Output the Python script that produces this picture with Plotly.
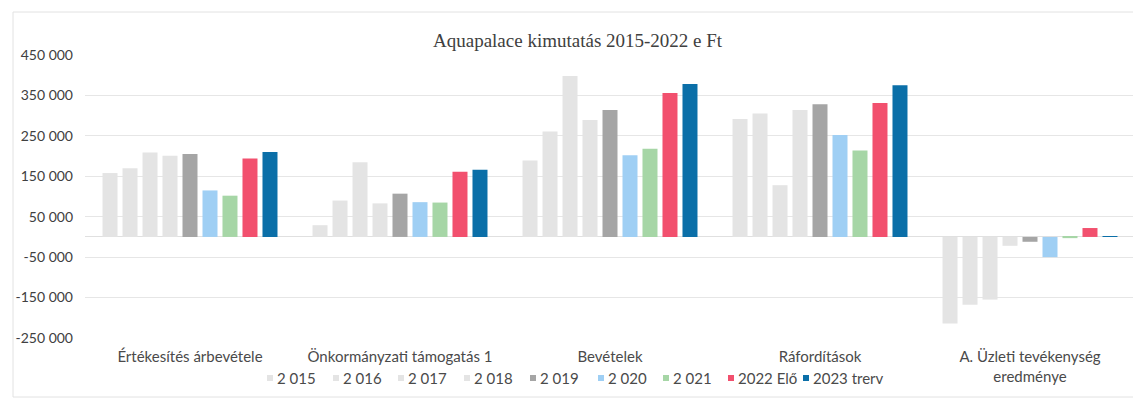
import plotly.graph_objects as go

categories = ["Értékesítés árbevétele", "Önkormányzati támogatás 1", "Bevételek",
              "Ráfordítások", "A. Üzleti tevékenység<br>eredménye"]
series_names = ["2 015", "2 016", "2 017", "2 018", "2 019", "2 020", "2 021", "2022 Elő", "2023 trerv"]

v2015 = [158000, 29000, 189000, 292000, -214000]
v2016 = [170000, 90000, 261000, 305000, -168000]
v2017 = [209000, 185000, 398000, 128000, -155000]
v2018 = [201000, 83000, 289000, 314000, -22000]
v2019 = [205000, 107000, 314000, 328000, -12000]
v2020 = [115000, 86000, 202000, 252000, -50000]
v2021 = [102000, 85000, 218000, 214000, -3000]
v2022 = [194000, 161000, 356000, 331000, 22000]
v2023 = [210000, 166000, 378000, 375000, 500]
values = [v2015, v2016, v2017, v2018, v2019, v2020, v2021, v2022, v2023]

colors = ["#e4e4e4", "#e4e4e4", "#e4e4e4", "#e4e4e4", "#a5a5a5",
          "#9fcff4", "#a6d6a6", "#f2506e", "#0b6fa8"]

tick_vals = [-250000, -150000, -50000, 50000, 150000, 250000, 350000, 450000]
tick_text = ["-250 000", "-150 000", "-50 000", "50 000", "150 000", "250 000", "350 000", "450 000"]

title_text = "Aquapalace kimutatás 2015-2022 e Ft"

# page is offset by the 8px body margin
OFF = 8
W, H = 1141 - OFF, 401 - OFF
L, T = 85 - OFF, 55 - OFF
R = W - (1135 - OFF)
B = H - (338 - OFF)
pw, ph = W - L - R, H - T - B


def px_x(px):
    return (px - OFF - L) / pw


def px_y(py):
    return (H - B - (py - OFF)) / ph


# legend layout (reference pixel positions of each legend marker)
legend_marker_x = [267, 333, 398, 464, 530, 598, 663, 728, 803]
legend_y = 378

fig = go.Figure()
for name, vals, col in zip(series_names, values, colors):
    fig.add_trace(go.Bar(x=categories, y=vals, name=name, marker=dict(color=col, line=dict(width=0)),
                         showlegend=False))

annotations = [dict(text=title_text, x=px_x(578), y=px_y(40), xref="paper", yref="paper",
                    showarrow=False, xanchor="center", yanchor="middle",
                    font=dict(family="Liberation Serif, serif", size=19, color="#404040"))]
shapes = [dict(type="rect", xref="paper", yref="paper",
               x0=px_x(13), x1=px_x(1140), y0=px_y(397), y1=px_y(12),
               line=dict(color="#e2e2e2", width=1), fillcolor="rgba(0,0,0,0)", layer="below")]

for name, col, mx in zip(series_names, colors, legend_marker_x):
    shapes.append(dict(type="rect", xref="paper", yref="paper",
                       x0=px_x(mx), x1=px_x(mx + 6), y0=px_y(legend_y + 3), y1=px_y(legend_y - 3),
                       line=dict(width=0), fillcolor=col))
    annotations.append(dict(text=name, x=px_x(mx + 8), y=px_y(legend_y), xref="paper", yref="paper",
                            showarrow=False, xanchor="left", yanchor="middle",
                            font=dict(size=15, color="#4a4a4a")))

fig.update_layout(
    width=W, height=H,
    margin=dict(l=L, r=R, t=T, b=B, autoexpand=False),
    paper_bgcolor="white", plot_bgcolor="white",
    barmode="group", bargap=0.143, bargroupgap=0.25,
    font=dict(family="Lato, Open Sans, sans-serif", size=14, color="#404040"),
    showlegend=False,
    annotations=annotations,
    shapes=shapes,
)
fig.update_xaxes(showgrid=False, showline=False, ticks="", ticklabelstandoff=8,
                 tickfont=dict(size=15, color="#4a4a4a"))
fig.update_yaxes(range=[-250000, 450000], tickvals=tick_vals, ticktext=tick_text,
                 showgrid=True, gridcolor="#e6e6e6", gridwidth=1,
                 zeroline=True, zerolinecolor="#e0e0e0", zerolinewidth=1,
                 showline=False, ticks="", ticklabelstandoff=11,
                 tickfont=dict(size=14, color="#404040"))

fig.write_html("out.html")
